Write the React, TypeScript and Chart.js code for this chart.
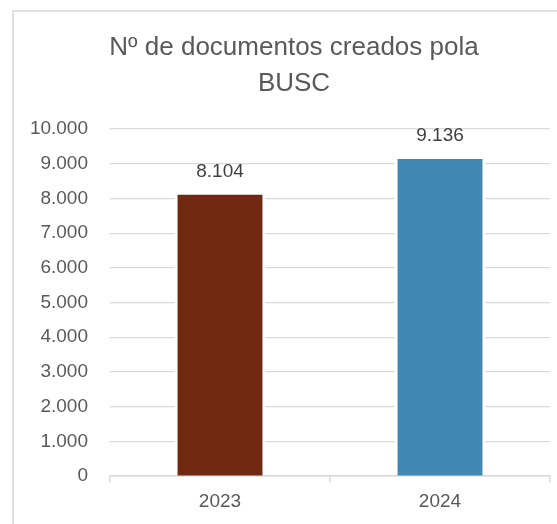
import React, { useEffect, useRef } from "react";
import { Chart, registerables } from "chart.js";

Chart.register(...registerables);

const categories: string[] = ["2023", "2024"];
const values: number[] = [8104, 9136];
const barColors: string[] = ["#722912", "#4189B3"];
const titleLines: string[] = ["Nº de documentos creados pola", "BUSC"];
const yMin = 0;
const yMax = 10000;
const yStep = 1000;

const fmtDot = (v: number) => {
  const s = String(Math.round(v));
  return s.replace(/\B(?=(\d{3})+(?!\d))/g, ".");
};

const FONT = "'Liberation Sans', Arial, sans-serif";

const titlePlugin = {
  id: "customTitle",
  afterDraw(chart: any) {
    const ctx = chart.ctx;
    ctx.save();
    ctx.fillStyle = "#595959";
    ctx.font = `26px ${FONT}`;
    ctx.textAlign = "center";
    ctx.textBaseline = "middle";
    titleLines.forEach((line, i) => {
      ctx.fillText(line, 279, 35 + i * 36);
    });
    ctx.restore();
  },
};

const gapPlugin = {
  id: "barGap",
  beforeDatasetsDraw(chart: any) {
    const ctx = chart.ctx;
    const meta = chart.getDatasetMeta(0);
    ctx.save();
    ctx.fillStyle = "#ffffff";
    meta.data.forEach((bar: any) => {
      const p = bar.getProps(["x", "y", "base", "width"], true);
      const pad = 3;
      ctx.fillRect(p.x - p.width / 2 - pad, p.y - pad, p.width + pad * 2, p.base - p.y + pad - 1);
    });
    ctx.restore();
  },
};

const labelPlugin = {
  id: "valueLabels",
  afterDatasetsDraw(chart: any) {
    const ctx = chart.ctx;
    const meta = chart.getDatasetMeta(0);
    ctx.save();
    ctx.fillStyle = "#404040";
    ctx.font = `19px ${FONT}`;
    ctx.textAlign = "center";
    ctx.textBaseline = "alphabetic";
    meta.data.forEach((bar: any, i: number) => {
      const p = bar.getProps(["x", "y"], true);
      ctx.fillText(fmtDot(values[i]), p.x, p.y - 18);
    });
    ctx.restore();
  },
};

export default function App() {
  const ref = useRef<HTMLCanvasElement | null>(null);

  useEffect(() => {
    if (!ref.current) return;
    const chart = new Chart(ref.current, {
      type: "bar",
      data: {
        labels: categories,
        datasets: [
          {
            data: values,
            backgroundColor: barColors,
            borderWidth: 0,
            barPercentage: 0.386,
            categoryPercentage: 1,
          },
        ],
      },
      options: {
        animation: false,
        responsive: false,
        maintainAspectRatio: false,
        layout: { padding: { left: 0, right: 23, top: 116, bottom: 17 } },
        plugins: {
          legend: { display: false },
          tooltip: { enabled: false },
          title: { display: false },
        },
        scales: {
          x: {
            grid: {
              display: true,
              offset: true,
              drawOnChartArea: false,
              drawTicks: true,
              tickLength: 6,
              color: "#d9d9d9",
              lineWidth: 1.5,
            },
            border: { display: true, color: "#d9d9d9", width: 1.5 },
            ticks: {
              color: "#595959",
              font: { family: FONT, size: 19 },
              padding: 8,
            },
            afterFit: (s: any) => {
              s.height = 50;
            },
          },
          y: {
            min: yMin,
            max: yMax,
            grid: { color: "#d9d9d9", lineWidth: 1.2, drawTicks: false },
            border: { display: false },
            ticks: {
              stepSize: yStep,
              color: "#595959",
              font: { family: FONT, size: 19 },
              padding: 22,
              callback: (v: any) => fmtDot(Number(v)),
            },
            afterFit: (s: any) => {
              s.width = 95;
            },
          },
        },
      },
      plugins: [gapPlugin, labelPlugin, titlePlugin],
    });
    return () => chart.destroy();
  }, []);

  return (
    <div
      style={{
        position: "fixed",
        left: 0,
        top: 0,
        width: 557,
        height: 524,
        overflow: "hidden",
        background: "#ffffff",
      }}
    >
      <div
        style={{
          position: "absolute",
          left: 12,
          top: 10,
          width: 600,
          height: 600,
          border: "2px solid #e0e0e0",
          boxSizing: "border-box",
        }}
      >
        <canvas
          ref={ref}
          width={558}
          height={530}
          style={{ position: "absolute", left: 1, top: 1, width: 558, height: 530 }}
        />
      </div>
    </div>
  );
}
